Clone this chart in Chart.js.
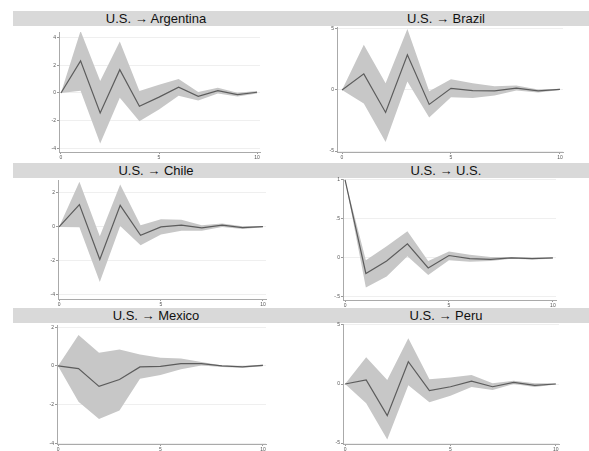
<!DOCTYPE html>
<html>
<head>
<meta charset="utf-8">
<script src="https://cdn.jsdelivr.net/npm/chart.js@4.4.1/dist/chart.umd.min.js"></script>
<style>
  html, body { margin: 0; padding: 0; background: #fff; }
  #fig { position: relative; width: 589px; height: 451px; overflow: hidden; font-family: "Liberation Sans", Arial, sans-serif; }
  .bar { position: absolute; left: 13px; width: 576px; height: 15px; background: #d9d9d9; }
  .ttl { position: absolute; top: 0; height: 15px; line-height: 15px; font-size: 13px; color: #111; transform: translateX(-50%); white-space: nowrap; }
  canvas { position: absolute; }
</style>
</head>
<body>
<div id="fig"></div>
<script>
// Impulse-response horizon (steps after the shock)
const steps = [0, 1, 2, 3, 4, 5, 6, 7, 8, 9, 10];
const xTicks = [0, 5, 10];

// Response of each economy to a U.S. shock: point estimate and confidence band
const argIrf = [0, 2.32, -1.44, 1.68, -0.96, -0.30, 0.41, -0.24, 0.17, -0.12, 0.05];
const argHi  = [0, 4.48, 0.86, 3.71, 0.15, 0.60, 1.00, 0.07, 0.37, 0.02, 0.14];
const argLo  = [0, 0.16, -3.64, -0.35, -2.04, -1.20, -0.20, -0.55, -0.03, -0.26, -0.04];

const braIrf = [0, 1.32, -1.84, 2.88, -1.18, 0.14, -0.05, -0.08, 0.16, -0.08, 0.05];
const braHi  = [0, 3.70, 0.55, 5.00, -0.10, 0.88, 0.55, 0.30, 0.36, 0.03, 0.10];
const braLo  = [0, -1.10, -4.26, 0.70, -2.25, -0.60, -0.65, -0.45, -0.04, -0.20, 0];

const chlIrf = [0, 1.31, -1.92, 1.27, -0.49, 0, 0.10, -0.06, 0.10, -0.04, 0.02];
const chlHi  = [0, 2.65, -0.55, 2.49, 0.10, 0.45, 0.42, 0.10, 0.20, 0.04, 0.06];
const chlLo  = [0, -0.02, -3.24, 0.05, -1.08, -0.45, -0.22, -0.22, 0, -0.12, -0.02];

const usaIrf = [1.0, -0.20, -0.04, 0.18, -0.13, 0.03, -0.01, -0.02, 0, -0.01, 0];
const usaHi  = [1.0, -0.03, 0.15, 0.34, -0.04, 0.08, 0.04, 0.01, 0.01, 0.005, 0];
const usaLo  = [1.0, -0.38, -0.24, 0.02, -0.22, -0.03, -0.05, -0.04, -0.01, -0.02, -0.01];

const mexIrf = [0, -0.14, -1.06, -0.70, -0.05, -0.02, 0.12, 0.12, 0, -0.05, 0.03];
const mexHi  = [0, 1.60, 0.68, 0.85, 0.59, 0.43, 0.38, 0.21, 0.03, -0.02, 0.07];
const mexLo  = [0, -1.85, -2.75, -2.30, -0.66, -0.47, -0.17, 0.02, -0.05, -0.09, -0.01];

const perIrf = [0, 0.34, -2.68, 1.89, -0.56, -0.23, 0.25, -0.23, 0.14, -0.11, 0];
const perHi  = [0, 2.26, 0.34, 3.87, 0.40, 0.54, 0.76, 0.06, 0.28, 0.06, 0.06];
const perLo  = [0, -1.64, -4.69, -0.10, -1.55, -1.00, -0.26, -0.50, 0, -0.25, -0.05];

// Y-axis tick values per panel
const ticksTwo  = [-4, -2, 0, 2, 4];
const ticksFive = [-5, 0, 5];
const ticksChl  = [-4, -2, 0, 2];
const ticksUsa  = [-0.5, 0, 0.5, 1];
const ticksMex  = [-4, -2, 0, 2];

// Panel layout: plot box [left, top, right, bottom] in page pixels and axis ranges
const panels = [
  { title: 'U.S. \u2192 Argentina', irf: argIrf, hi: argHi, lo: argLo, yt: ticksTwo,  box: [59, 32, 260, 152],  xr: [-0.1, 10.15],  yr: [-4.26, 4.4] },
  { title: 'U.S. \u2192 Brazil',    irf: braIrf, hi: braHi, lo: braLo, yt: ticksFive, box: [337, 27, 563, 152], xr: [-0.23, 10.14], yr: [-5.08, 5.16] },
  { title: 'U.S. \u2192 Chile',     irf: chlIrf, hi: chlHi, lo: chlLo, yt: ticksChl,  box: [58, 180, 266, 299], xr: [-0.05, 10.15], yr: [-4.24, 2.76] },
  { title: 'U.S. \u2192 U.S.',      irf: usaIrf, hi: usaHi, lo: usaLo, yt: ticksUsa,  box: [343, 179, 556, 300], xr: [-0.1, 10.15], yr: [-0.54, 1.01] },
  { title: 'U.S. \u2192 Mexico',    irf: mexIrf, hi: mexHi, lo: mexLo, yt: ticksMex,  box: [57, 325, 266, 444], xr: [-0.05, 10.15], yr: [-4.04, 2.12] },
  { title: 'U.S. \u2192 Peru',      irf: perIrf, hi: perHi, lo: perLo, yt: ticksFive, box: [343, 324, 559, 444], xr: [-0.1, 10.15], yr: [-5.08, 5.08] }
];

// Title strips, one per row, each holding two panel titles
const rowBars = [11, 163, 308];
const titleCenters = [156, 446];

const fig = document.getElementById('fig');
rowBars.forEach((top, r) => {
  const bar = document.createElement('div');
  bar.className = 'bar';
  bar.style.top = top + 'px';
  fig.appendChild(bar);
  [0, 1].forEach(c => {
    const t = document.createElement('div');
    t.className = 'ttl';
    t.style.left = (titleCenters[c] - 13) + 'px';
    t.textContent = panels[r * 2 + c].title;
    bar.appendChild(t);
  });
});

const fmt = v => String(v).replace('0.', '.');
const YW = 30, XH = 12, PT = 5, PR = 3;

panels.forEach(p => {
  const [L, T, R, B] = p.box;
  const cv = document.createElement('canvas');
  const w = (R - L) + YW + PR, h = (B - T) + PT + XH;
  cv.width = w; cv.height = h;
  cv.style.left = (L - YW) + 'px';
  cv.style.top = (T - PT) + 'px';
  cv.style.width = w + 'px';
  cv.style.height = h + 'px';
  fig.appendChild(cv);

  new Chart(cv, {
    type: 'line',
    data: {
      labels: steps,
      datasets: [
        { data: p.lo.map((v, i) => ({ x: steps[i], y: v })), borderWidth: 0, pointRadius: 0, fill: false, order: 1 },
        { data: p.hi.map((v, i) => ({ x: steps[i], y: v })), borderWidth: 0, pointRadius: 0, fill: '-1', backgroundColor: 'rgb(199,199,199)', order: 1 },
        // point estimate, drawn above the band
        { data: p.irf.map((v, i) => ({ x: steps[i], y: v })), borderColor: '#5c5c5c', borderWidth: 1.2, pointRadius: 0, fill: false, tension: 0, order: -1 }
      ]
    },
    options: {
      responsive: false,
      devicePixelRatio: 1,
      animation: false,
      events: [],
      layout: { autoPadding: false, padding: { top: PT, right: PR, left: 0, bottom: 0 } },
      plugins: { legend: { display: false }, tooltip: { enabled: false }, title: { display: false } },
      scales: {
        x: {
          type: 'linear',
          min: p.xr[0], max: p.xr[1],
          afterBuildTicks: s => { s.ticks = xTicks.map(v => ({ value: v })); },
          afterFit: s => { s.height = XH; },
          grid: { display: true, drawOnChartArea: false, drawTicks: true, tickLength: 2, tickColor: '#999', color: '#999' },
          border: { display: true, color: '#aaa', width: 1 },
          ticks: { font: { size: 5, family: 'Liberation Sans' }, color: '#555', padding: 1, maxRotation: 0, autoSkip: false, callback: v => fmt(v) }
        },
        y: {
          min: p.yr[0], max: p.yr[1],
          afterBuildTicks: s => { s.ticks = p.yt.map(v => ({ value: v })); },
          afterFit: s => { s.width = YW; },
          grid: { display: true, drawOnChartArea: true, drawTicks: true, tickLength: 2, color: '#efefef', tickColor: '#999' },
          border: { display: true, color: '#aaa', width: 1 },
          ticks: { font: { size: 5, family: 'Liberation Sans' }, color: '#555', padding: 1, autoSkip: false, callback: v => fmt(v) }
        }
      }
    }
  });
});
</script>
</body>
</html>
